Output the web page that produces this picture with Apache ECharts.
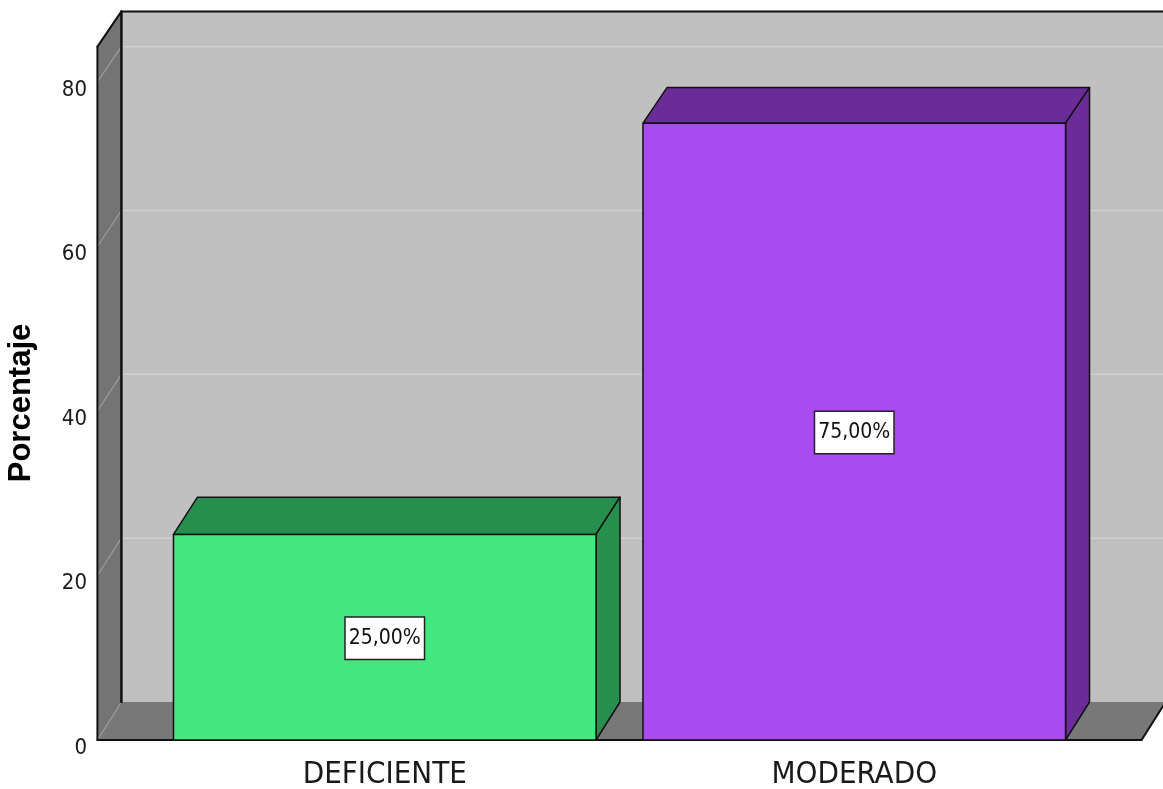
<!DOCTYPE html>
<html>
<head>
<meta charset="utf-8">
<script src="https://cdn.jsdelivr.net/npm/echarts@6/dist/echarts.min.js"></script>
<style>
  html, body { margin: 0; padding: 0; background: #fff; }
  #chart { width: 1163px; height: 789px; }
</style>
</head>
<body>
<div id="chart"></div>
<script>
// data
const categories = ['DEFICIENTE', 'MODERADO'];
const percentages = [25, 75];
const valueLabels = ['25,00%', '75,00%'];
const yTicks = [0, 20, 40, 60, 80];
const wallTop = 84.3; // where the backdrop stops, in axis units

const frontColors = ['#42E87E', '#AA4BF2'];
const shadeColors = ['#268F4D', '#6A2C96'];

const NARROW = "'Liberation Sans Narrow', 'Arial Narrow', 'DejaVu Sans Condensed', sans-serif";

// fake 3D depth
const DEPTH_X = 24;
const DEPTH_Y = 38;
const SHRINK = 0.996;
const FLOOR_EXT = 0.112; // floor overhang past the bands, share of a band

const chart = echarts.init(document.getElementById('chart'));

// front point -> same point on the back plane
function back(pt, y0) {
  return [pt[0] + DEPTH_X, y0 - DEPTH_Y + (pt[1] - y0) * SHRINK];
}

function renderBackdrop(params, api) {
  const cs = params.coordSys;
  const band = api.size([1, 0])[0];
  const y0 = api.coord([0, 0])[1];
  const yTop = api.coord([0, wallTop])[1];
  const xl = cs.x - band * FLOOR_EXT;
  const xr = cs.x + cs.width + band * FLOOR_EXT;
  const fl = [xl, y0], ft = [xl, yTop], fr = [xr, y0];
  const bl = back(fl, y0), tl = back(ft, y0), br = back(fr, y0);
  const farRight = br[0] + 40;
  const children = [];

  children.push({ type: 'rect', shape: { x: tl[0], y: tl[1], width: farRight - tl[0], height: bl[1] - tl[1] }, style: { fill: '#C0C0C0' } });
  children.push({ type: 'polygon', shape: { points: [ft, tl, bl, fl] }, style: { fill: '#747474' } });
  children.push({ type: 'polygon', shape: { points: [fl, bl, br, fr] }, style: { fill: '#787878' } });

  // grid lines on the side wall and back wall
  yTicks.forEach(v => {
    const p = [xl, api.coord([0, v])[1]];
    const b = back(p, y0);
    children.push({ type: 'line', shape: { x1: p[0], y1: p[1], x2: b[0], y2: b[1] }, style: { stroke: '#9E9E9E', lineWidth: 1.2 } });
    if (v > 0) {
      children.push({ type: 'line', shape: { x1: b[0], y1: b[1], x2: farRight, y2: b[1] }, style: { stroke: '#D0D0D0', lineWidth: 1.5 } });
    }
  });

  const edge = { stroke: '#111', lineWidth: 2, lineCap: 'round' };
  const seg = (a, b, w) => ({ type: 'line', shape: { x1: a[0], y1: a[1], x2: b[0], y2: b[1] }, style: Object.assign({}, edge, w ? { lineWidth: w } : {}) });
  children.push(seg(ft, fl));
  children.push(seg(ft, tl));
  children.push(seg(tl, bl, 2.5));
  children.push(seg(tl, [farRight, tl[1]]));
  children.push(seg(fl, fr));
  children.push(seg(fr, br));

  return { type: 'group', children: children };
}

function renderBar(params, api) {
  const i = params.dataIndex;
  const c = api.coord([api.value(0), api.value(1)]);
  const y0 = api.coord([api.value(0), 0])[1];
  const bw = api.size([1, 0])[0] * 0.9;
  const x1 = c[0] - bw / 2, x2 = c[0] + bw / 2, yt = c[1];
  const ftl = [x1, yt], ftr = [x2, yt], fbr = [x2, y0];
  const btl = back(ftl, y0), btr = back(ftr, y0), bbr = back(fbr, y0);
  const line = { stroke: '#111', lineWidth: 1.5, lineJoin: 'round' };
  return {
    type: 'group',
    children: [
      { type: 'polygon', shape: { points: [ftl, btl, btr, ftr] }, style: Object.assign({ fill: shadeColors[i] }, line) },
      { type: 'polygon', shape: { points: [ftr, btr, bbr, fbr] }, style: Object.assign({ fill: shadeColors[i] }, line) },
      { type: 'rect', shape: { x: x1, y: yt, width: bw, height: y0 - yt }, style: Object.assign({ fill: frontColors[i] }, line) },
      {
        type: 'text', x: c[0], y: (yt + y0) / 2 + 1,
        style: {
          text: valueLabels[i], align: 'center', verticalAlign: 'middle',
          fontFamily: NARROW, fontSize: 21, lineHeight: 21, fill: '#111',
          backgroundColor: '#fff', borderColor: '#222', borderWidth: 1.5,
          padding: [10, 3, 10, 3]
        }
      }
    ]
  };
}

const option = {
  animation: false,
  grid: { left: 150, right: 74, top: 82, bottom: 49, outerBoundsMode: 'none' },
  xAxis: {
    type: 'category',
    data: categories,
    axisLine: { show: false },
    axisTick: { show: false },
    axisLabel: { fontFamily: NARROW, fontSize: 31, color: '#1a1a1a', margin: 19 }
  },
  yAxis: {
    type: 'value',
    min: 0,
    max: 80,
    interval: 20,
    offset: 53,
    axisLine: { show: false },
    axisTick: { show: false },
    splitLine: { show: false },
    axisLabel: { fontFamily: NARROW, fontSize: 22, color: '#1a1a1a', margin: 10, verticalAlign: 'top', lineHeight: 16 },
    name: 'Porcentaje',
    nameLocation: 'middle',
    nameGap: 60,
    nameTextStyle: { fontFamily: "'Liberation Sans', Arial, sans-serif", fontWeight: 'bold', fontSize: 31, color: '#000', padding: [0, 0, 0, 16] }
  },
  series: [
    { type: 'custom', name: 'backdrop', renderItem: renderBackdrop, data: [[0, 0]], silent: true, z: 1 },
    { type: 'custom', name: 'Porcentaje', renderItem: renderBar, data: categories.map((c, i) => [i, percentages[i]]), z: 2 }
  ]
};

chart.setOption(option);
</script>
</body>
</html>
